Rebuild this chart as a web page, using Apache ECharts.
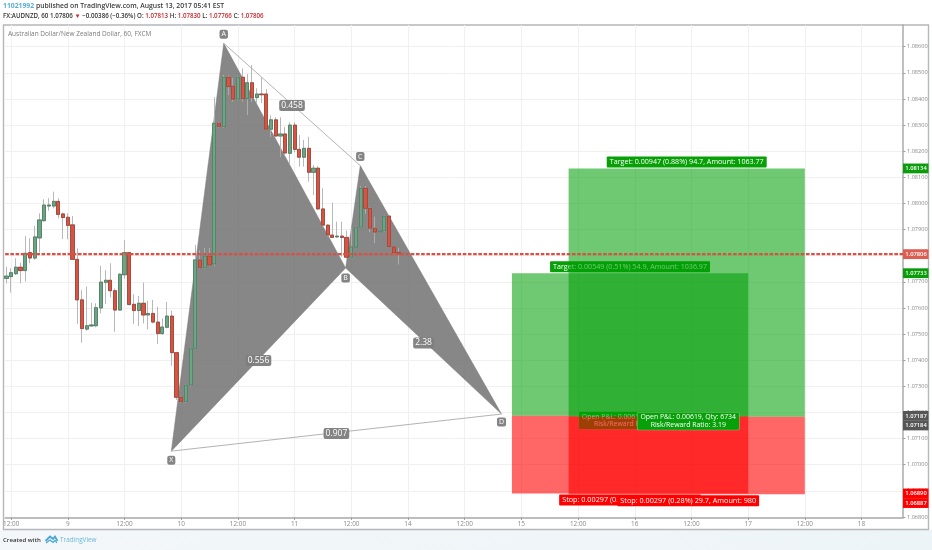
<!DOCTYPE html>
<html><head><meta charset="utf-8"><title>AUDNZD</title>
<script src="https://cdn.jsdelivr.net/npm/echarts@6/dist/echarts.min.js"></script>
<style>html,body{margin:0;padding:0;background:#fff}#c{width:932px;height:550px}</style></head>
<body><div id="c"></div>
<script>
// hour offsets: first candle sits one hour left of the first 12:00 tick
const firstHour = -1;
// [open, close, low, high]
const candles = [
[1.07713,1.07722,1.07694,1.07758],[1.07720,1.07735,1.07659,1.07752],[1.07731,1.07756,1.07726,1.07790],[1.07756,1.07743,1.07694,1.07773],
[1.07743,1.07809,1.07701,1.07875],[1.07812,1.07791,1.07771,1.07867],[1.07791,1.07872,1.07784,1.07914],[1.07868,1.07937,1.07812,1.07962],
[1.07934,1.07994,1.07930,1.08016],[1.07990,1.07994,1.07972,1.08020],[1.07990,1.08008,1.07981,1.08045],[1.08008,1.07958,1.07943,1.08020],
[1.07960,1.07946,1.07864,1.07965],[1.07947,1.07916,1.07863,1.07962],[1.07918,1.07786,1.07784,1.07952],[1.07786,1.07631,1.07539,1.07828],
[1.07631,1.07521,1.07467,1.07669],[1.07519,1.07532,1.07513,1.07682],[1.07531,1.07535,1.07528,1.07620],[1.07532,1.07601,1.07526,1.07618],
[1.07600,1.07699,1.07579,1.07761],[1.07698,1.07706,1.07615,1.07745],[1.07706,1.07666,1.07641,1.07771],[1.07666,1.07592,1.07509,1.07675],
[1.07592,1.07729,1.07590,1.07733],[1.07727,1.07812,1.07712,1.07860],[1.07812,1.07613,1.07610,1.07814],[1.07614,1.07590,1.07539,1.07653],
[1.07590,1.07618,1.07531,1.07646],[1.07618,1.07573,1.07541,1.07697],[1.07573,1.07579,1.07518,1.07628],[1.07579,1.07546,1.07541,1.07631],
[1.07546,1.07502,1.07462,1.07605],[1.07502,1.07527,1.07497,1.07560],[1.07526,1.07569,1.07522,1.07623],[1.07569,1.07429,1.07378,1.07590],
[1.07429,1.07258,1.07248,1.07432],[1.07259,1.07241,1.07236,1.07264],[1.07241,1.07305,1.07236,1.07309],[1.07305,1.07444,1.07300,1.07448],
[1.07444,1.07784,1.07440,1.07841],[1.07784,1.07754,1.07750,1.07821],[1.07754,1.07799,1.07750,1.07830],[1.07799,1.07764,1.07760,1.07830],
[1.07768,1.08307,1.07760,1.08407],[1.08307,1.08294,1.08289,1.08311],[1.08294,1.08483,1.08289,1.08492],[1.08483,1.08447,1.08415,1.08490],
[1.08449,1.08399,1.08390,1.08480],[1.08399,1.08483,1.08395,1.08488],[1.08483,1.08401,1.08390,1.08517],[1.08401,1.08462,1.08338,1.08495],
[1.08462,1.08405,1.08388,1.08530],[1.08405,1.08419,1.08384,1.08441],[1.08419,1.08416,1.08384,1.08483],[1.08419,1.08284,1.08280,1.08438],
[1.08284,1.08320,1.08254,1.08338],[1.08320,1.08258,1.08254,1.08330],[1.08258,1.08266,1.08177,1.08330],[1.08266,1.08193,1.08181,1.08292],
[1.08192,1.08300,1.08147,1.08311],[1.08300,1.08207,1.08196,1.08311],[1.08207,1.08177,1.08141,1.08262],[1.08177,1.08211,1.08141,1.08243],
[1.08211,1.08119,1.08083,1.08255],[1.08119,1.08135,1.08032,1.08147],[1.08135,1.07979,1.07975,1.08143],[1.07979,1.07917,1.07911,1.08058],
[1.07917,1.07879,1.07873,1.07921],[1.07879,1.07870,1.07868,1.08003],[1.07872,1.07875,1.07868,1.07930],[1.07875,1.07870,1.07796,1.07930],
[1.07870,1.07794,1.07790,1.07896],[1.07794,1.07834,1.07791,1.07905],[1.07832,1.07909,1.07829,1.07913],[1.07909,1.08058,1.07906,1.08067],
[1.08058,1.07981,1.07960,1.08067],[1.07981,1.07905,1.07890,1.07986],[1.07905,1.07890,1.07848,1.07949],[1.07890,1.07895,1.07886,1.07898],
[1.07895,1.07952,1.07890,1.07956],[1.07952,1.07834,1.07831,1.07956],[1.07834,1.07811,1.07806,1.07836],[1.07813,1.07806,1.07766,1.07830]
];
const lastPrice = 1.07806;
const xTickLabels = ['12:00','9','12:00','10','12:00','11','12:00','14','12:00','15','12:00','16','12:00','17','12:00','18'];
const yTickValues = [1.068,1.069,1.07,1.071,1.072,1.073,1.074,1.075,1.076,1.077,1.078,1.079,1.08,1.081,1.082,1.083,1.084,1.085,1.086];
// harmonic pattern vertices: name, hour, price
const vertexNames = ['X','A','B','C','D'];
const vertexHours = [33.9,45,70.8,73.9,103.8];
const vertexPrices = [1.07052,1.08613,1.07753,1.08145,1.07194];
const ratioLabels = ['0.458','0.556','2.38','0.907'];
// two long positions
const posStart = [106,118];
const posEnd = [156,168];
const posTarget = [1.07733,1.08134];
const posEntry = [1.07187,1.07184];
const posStop = [1.06890,1.06887];
const targetTexts = ['Target: 0.00549 (0.51%) 54.9, Amount: 1036.97','Target: 0.00947 (0.88%) 94.7, Amount: 1063.77'];
const stopTexts = ['Stop: 0.00297 (0.28%) 29.7, Amount: 980','Stop: 0.00297 (0.28%) 29.7, Amount: 980'];
const openTexts = ['Open P&L: 0.00619, Qty: 10000\nRisk/Reward Ratio: 1.85','Open P&L: 0.00619, Qty: 6734\nRisk/Reward Ratio: 3.19'];

const FONT = '"Open Sans","Noto Sans",sans-serif';
const xMin = -1.268, xMax = 188.78, yMin = 1.06798, yMax = 1.08683;
const xTickValues = xTickLabels.map((_, i) => i * 12);
const candleRows = candles.map((c, i) => [firstHour + i, c[0], c[1], c[2], c[3]]);
const bodyRows = candles.map((c, i) => [firstHour + i, c[0], c[1], Math.min(c[0], c[1]), Math.max(c[0], c[1])]);

function tag(x, y, text, bg, fill, opts) {
  opts = opts || {};
  return { type: 'text', silent: true, style: {
    x, y, text, fill: fill || '#fff', font: (opts.weight || '') + ' ' + (opts.size || 7) + 'px ' + FONT,
    align: opts.align || 'center', verticalAlign: 'middle', backgroundColor: bg,
    padding: opts.padding || [2, 3], borderRadius: opts.radius == null ? 1 : opts.radius,
    lineHeight: opts.lineHeight, borderColor: opts.border, borderWidth: opts.border ? 0.6 : 0 } };
}
const pt = (api, i) => api.coord([vertexHours[i], vertexPrices[i]]);
const mid = (a, b) => [(a[0] + b[0]) / 2, (a[1] + b[1]) / 2];

function renderPattern(params, api) {
  if (params.dataIndex) return;
  const p = vertexNames.map((_, i) => pt(api, i));
  const fill = { fill: 'rgba(108,108,108,0.82)', stroke: 'rgba(120,120,120,0.9)', lineWidth: 0.5 };
  const line = (a, b) => ({ type: 'line', silent: true, shape: { x1: a[0], y1: a[1], x2: b[0], y2: b[1] }, style: { stroke: '#b3b3b3', lineWidth: 1 } });
  return { type: 'group', children: [
    { type: 'polygon', silent: true, shape: { points: [p[0], p[1], p[2]] }, style: fill },
    { type: 'polygon', silent: true, shape: { points: [p[2], p[3], p[4]] }, style: fill },
    line(p[1], p[3]), line(p[0], p[4])
  ] };
}
function renderPatternLabels(params, api) {
  if (params.dataIndex) return;
  const p = vertexNames.map((_, i) => pt(api, i));
  const bg = 'rgba(125,125,125,0.95)';
  const offs = [9, -9, 10, -9, 8];
  const kids = vertexNames.map((n, i) => tag(p[i][0], p[i][1] + offs[i], n, bg, '#fff', { size: 7, padding: [1, 2], radius: 2 }));
  const mids = [mid(p[1], p[3]), mid(p[0], p[2]), mid(p[2], p[4]), mid(p[0], p[4])];
  ratioLabels.forEach((t, i) => kids.push(tag(mids[i][0], mids[i][1] + (i === 2 ? 2 : 1), t, bg, '#fff', { size: 8.5, padding: [1, 2], radius: 2 })));
  return { type: 'group', children: kids };
}
function renderPosition(k) {
  return function (params, api) {
    if (params.dataIndex) return;
    const a = api.coord([posStart[k], posTarget[k]]), b = api.coord([posEnd[k], posEntry[k]]), c = api.coord([posEnd[k], posStop[k]]);
    return { type: 'group', children: [
      { type: 'rect', silent: true, shape: { x: a[0], y: a[1], width: b[0] - a[0], height: b[1] - a[1] }, style: { fill: 'rgba(0,157,5,0.565)' } },
      { type: 'rect', silent: true, shape: { x: a[0], y: b[1], width: b[0] - a[0], height: c[1] - b[1] }, style: { fill: 'rgba(255,0,0,0.6)' } }
    ] };
  };
}
function renderPositionText(k) {
  return function (params, api) {
    if (params.dataIndex) return;
    const a = api.coord([posStart[k], posTarget[k]]), b = api.coord([posEnd[k], posEntry[k]]), c = api.coord([posEnd[k], posStop[k]]);
    const cx = (a[0] + b[0]) / 2;
    return { type: 'group', children: [
      tag(cx, a[1] - 6.5, targetTexts[k], '#07a007', '#fff', { size: 7.15, padding: [2, 3] }),
      tag(cx + (k ? 1.5 : 0), c[1] + 6.5, stopTexts[k], '#ff0000', '#fff', { size: 7.25, padding: [2, 3] }),
      tag(cx + 1.5, b[1] + 4.5, openTexts[k], '#08a008', '#fff', { size: 6.9, padding: [1, 3], lineHeight: 7.6, border: '#7fc97f' })
    ] };
  };
}
// right-axis price tags, pushed apart when they would collide
const axisTags = [
  [posTarget[1], '#0a9c0a', '#fff'], [lastPrice, '#dd5d52', '#fff'], [posTarget[0], '#0a9c0a', '#fff'],
  [posEntry[0], '#555555', '#fff'], [posEntry[1], '#555555', '#fff'], [posStop[0], '#ff0000', '#fff'], [posStop[1], '#ff0000', '#fff']
];
function renderAxisTags(params, api) {
  if (params.dataIndex) return;
  let prev = -99; const kids = [];
  axisTags.forEach(t => {
    const q = api.coord([xMax, t[0]]);
    const y = Math.max(q[1], prev + 9.6); prev = y;
    kids.push({ type: 'rect', silent: true, shape: { x: q[0], y: y - 4.9, width: 25.5, height: 9.8 }, style: { fill: t[1] } });
    kids.push({ type: 'text', silent: true, style: { x: q[0] + 13, y, text: t[0].toFixed(5), fill: t[2], font: '600 5.8px ' + FONT, align: 'center', verticalAlign: 'middle' } });
  });
  return { type: 'group', children: kids };
}
const custom = (renderItem, extra) => Object.assign({ type: 'custom', coordinateSystem: 'cartesian2d', clip: false, silent: true, animation: false, data: [[0, 0]], renderItem }, extra || {});

const logoBlue = '#4aa6d1';
const option = {
  animation: false,
  backgroundColor: '#ffffff',
  textStyle: { fontFamily: FONT },
  title: [
    { left: 3, top: 3, padding: 0, text: '{u|11021992} {t|published on TradingView.com, August 13, 2017 05:41 EST}',
      textStyle: { fontSize: 7, rich: { u: { color: '#55aed6', fontSize: 6.8, fontFamily: FONT }, t: { color: '#3a3a3a', fontSize: 6.8, fontWeight: 600, fontFamily: FONT } } } },
    { left: 3, top: 13, padding: 0, text: '{t|FX:AUDNZD, 60 1.07806} {r|▼} {t|−0.00386 (−0.36%)} {t|O:} {r|1.07813} {t|H:} {r|1.07830} {t|L:} {r|1.07766} {t|C:} {r|1.07806}',
      textStyle: { fontSize: 6.2, rich: { t: { color: '#333', fontSize: 6.2, fontWeight: 600, fontFamily: FONT }, r: { color: '#c8282e', fontSize: 6.2, fontWeight: 600, fontFamily: FONT } } } },
    { left: 8, top: 31, padding: 0, text: 'Australian Dollar/New Zealand Dollar, 60, FXCM', textStyle: { color: '#7b7b7b', fontSize: 6.5, fontWeight: 400, fontFamily: FONT } }
  ],
  grid: { left: 3.5, right: 29, top: 25, bottom: 32.5, containLabel: false },
  xAxis: {
    type: 'value', min: xMin, max: xMax, position: 'bottom',
    axisLine: { show: true, onZero: false, lineStyle: { color: '#a9abae', width: 1.5 } },
    axisTick: { show: true, length: 2.5, customValues: xTickValues, lineStyle: { color: '#a0a0a0' } },
    splitLine: { show: true, lineStyle: { color: '#f0f0f0', width: 1 } },
    axisLabel: { customValues: xTickValues, margin: 3.5, fontSize: 6.4, color: v => v === 84 ? '#333' : '#8a8a8a',
      formatter: v => xTickLabels[Math.round(v / 12)] }
  },
  yAxis: {
    type: 'value', min: yMin, max: yMax, position: 'right', scale: true,
    axisLine: { show: true, onZero: false, lineStyle: { color: '#a9abae', width: 1.5 } },
    axisTick: { show: true, length: 2.5, customValues: yTickValues, lineStyle: { color: '#a0a0a0' } },
    splitLine: { show: true, lineStyle: { color: '#f0f0f0', width: 1 } },
    axisLabel: { customValues: yTickValues, margin: 4, fontSize: 5.6, color: '#8a8a8a', formatter: v => v.toFixed(5) }
  },
  graphic: [
    { type: 'rect', z: -1, silent: true, shape: { x: 0, y: 530, width: 932, height: 20 }, style: { fill: new echarts.graphic.LinearGradient(0, 0, 1, 0, [{ offset: 0, color: '#f3f7f9' }, { offset: 1, color: '#edf4f8' }]) } },
    { type: 'rect', z: -1, silent: true, shape: { x: 3.5, y: 25, width: 925, height: 504.5 }, style: { fill: 'none', stroke: '#b5b7ba', lineWidth: 1.4 } },
    { type: 'text', silent: true, style: { x: 3, y: 540, text: 'Created with', fill: '#333', font: '600 6.1px ' + FONT, verticalAlign: 'middle' } },
    { type: 'polyline', silent: true, shape: { points: [[45.5, 541], [50, 536.5], [53, 539], [55, 536.5], [57.5, 541]] }, style: { fill: 'none', stroke: logoBlue, lineWidth: 1.8 } },
    { type: 'polyline', silent: true, shape: { points: [[46, 543], [50, 540], [53, 542.5], [55, 540.5], [57, 543]] }, style: { fill: 'none', stroke: logoBlue, lineWidth: 1.2 } },
    { type: 'text', silent: true, style: { x: 60, y: 540, text: 'TradingView', fill: '#6bb9dc', font: '400 6.4px ' + FONT, verticalAlign: 'middle' } }
  ],
  series: [
    custom(renderPattern),
    { type: 'candlestick', barWidth: 3.7, silent: true, data: candleRows, encode: { x: 0, y: [1, 2, 3, 4] }, animation: false,
      itemStyle: { color: '#6ba583', color0: '#d75442', borderColor: '#b0b0b0', borderColor0: '#b0b0b0', borderWidth: 0.9 } },
    { type: 'candlestick', barWidth: 3.7, silent: true, data: bodyRows, encode: { x: 0, y: [1, 2, 3, 4] }, animation: false,
      itemStyle: { color: '#6ba583', color0: '#d75442', borderColor: '#3f7457', borderColor0: '#96352a', borderWidth: 0.7 } },
    custom(renderPatternLabels),
    { type: 'line', silent: true, symbol: 'none', animation: false, data: [[xMin, lastPrice], [xMax, lastPrice]],
      lineStyle: { color: '#dc4f43', width: 2.2, type: [3.6, 1.6] } },
    custom(renderPosition(0)),
    custom(renderPositionText(0)),
    custom(renderPosition(1)),
    custom(renderPositionText(1)),
    custom(renderAxisTags)
  ]
};
const chart = echarts.init(document.getElementById('c'), null, { renderer: 'canvas' });
chart.setOption(option);
</script></body></html>
